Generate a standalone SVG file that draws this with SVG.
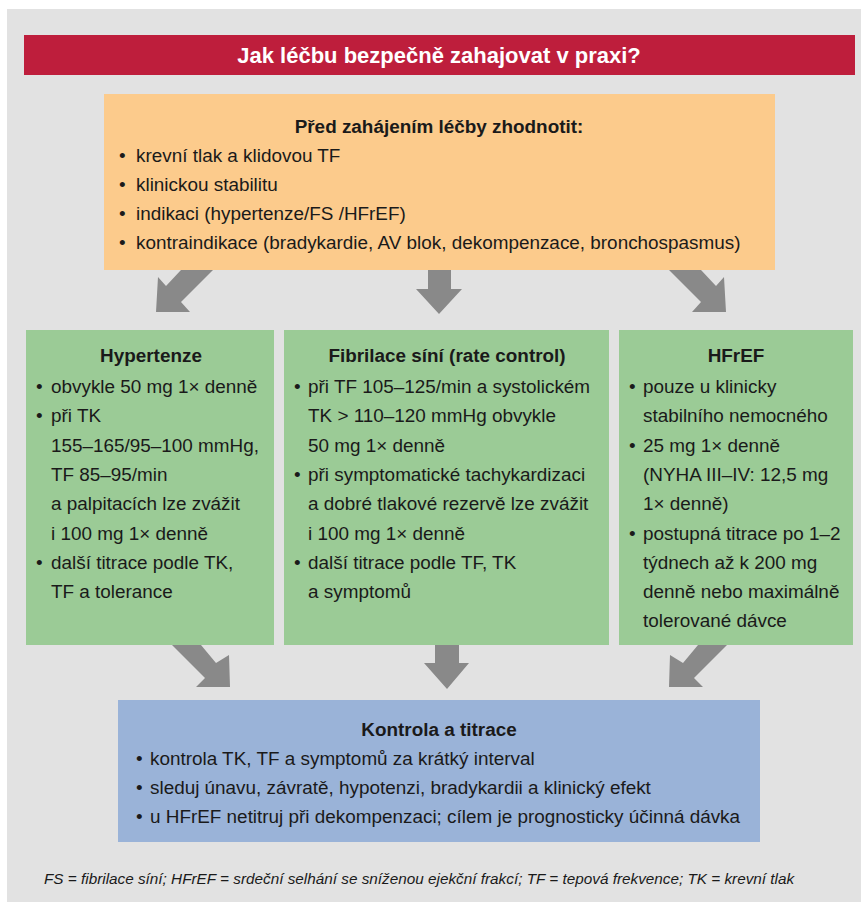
<svg xmlns="http://www.w3.org/2000/svg" width="861" height="902" viewBox="0 0 861 902">
<style>
text{font-family:"Liberation Sans",Arial,sans-serif;fill:#1a1a1a;font-size:18.9px}
.h{font-weight:bold;text-anchor:middle}
.t{fill:#ffffff;font-size:22px;font-weight:bold;text-anchor:middle}
.fn{font-style:italic;font-size:15.3px}
.arr{fill:#898989}
</style>
<rect x="7" y="9" width="854" height="893" fill="#e2e2e2"/>
<g id="title">
<rect x="24" y="35" width="831" height="40" fill="#be1e3c"/>
<text class="t" x="439" y="63">Jak léčbu bezpečně zahajovat v praxi?</text>
</g>
<g id="assess">
<rect x="104" y="94" width="671" height="176" fill="#fccb8c"/>
<text class="h" x="439" y="133">Před zahájením léčby zhodnotit:</text>
<text x="119" y="162">•</text><text x="136" y="162">krevní tlak a klidovou TF</text>
<text x="119" y="191">•</text><text x="136" y="191">klinickou stabilitu</text>
<text x="119" y="220">•</text><text x="136" y="220">indikaci (hypertenze/FS /HFrEF)</text>
<text x="119" y="249">•</text><text x="136" y="249">kontraindikace (bradykardie, AV blok, dekompenzace, bronchospasmus)</text>
</g>
<g id="hypertenze">
<rect x="26" y="330" width="248" height="315" fill="#9bcb96"/>
<text class="h" x="151" y="362">Hypertenze</text>
<text x="36" y="393">•</text><text x="51" y="393">obvykle 50 mg 1× denně</text>
<text x="36" y="422">•</text><text x="51" y="422">při TK</text>
<text x="51" y="452">155–165/95–100 mmHg,</text>
<text x="51" y="481">TF 85–95/min</text>
<text x="51" y="510">a palpitacích lze zvážit</text>
<text x="51" y="540">i 100 mg 1× denně</text>
<text x="36" y="569">•</text><text x="51" y="569">další titrace podle TK,</text>
<text x="51" y="598">TF a tolerance</text>
</g>
<g id="fibrilace">
<rect x="284" y="330" width="325" height="315" fill="#9bcb96"/>
<text class="h" x="447" y="362">Fibrilace síní (rate control)</text>
<text x="294" y="393">•</text><text x="308" y="393">při TF 105–125/min a systolickém</text>
<text x="308" y="422">TK &gt; 110–120 mmHg obvykle</text>
<text x="308" y="452">50 mg 1× denně</text>
<text x="294" y="481">•</text><text x="308" y="481">při symptomatické tachykardizaci</text>
<text x="308" y="510">a dobré tlakové rezervě lze zvážit</text>
<text x="308" y="540">i 100 mg 1× denně</text>
<text x="294" y="569">•</text><text x="308" y="569">další titrace podle TF, TK</text>
<text x="308" y="598">a symptomů</text>
</g>
<g id="hfref">
<rect x="619" y="330" width="234" height="315" fill="#9bcb96"/>
<text class="h" x="736" y="362">HFrEF</text>
<text x="629" y="393">•</text><text x="643" y="393">pouze u klinicky</text>
<text x="643" y="422">stabilního nemocného</text>
<text x="629" y="452">•</text><text x="643" y="452">25 mg 1× denně</text>
<text x="643" y="481">(NYHA III–IV: 12,5 mg</text>
<text x="643" y="510">1× denně)</text>
<text x="629" y="540">•</text><text x="643" y="540">postupná titrace po 1–2</text>
<text x="643" y="569">týdnech až k 200 mg</text>
<text x="643" y="598">denně nebo maximálně</text>
<text x="643" y="627">tolerované dávce</text>
</g>
<g id="kontrola">
<rect x="118" y="700" width="642" height="142" fill="#9ab3d8"/>
<text class="h" x="439" y="736">Kontrola a titrace</text>
<text x="136" y="765">•</text><text x="150" y="765">kontrola TK, TF a symptomů za krátký interval</text>
<text x="136" y="794">•</text><text x="150" y="794">sleduj únavu, závratě, hypotenzi, bradykardii a klinický efekt</text>
<text x="136" y="823">•</text><text x="150" y="823">u HFrEF netitruj při dekompenzaci; cílem je prognosticky účinná dávka</text>
</g>
<g id="connectors">
<polygon class="arr" points="181,270 213,270 181,302 190,312 156,312 158,277 166,286"/>
<polygon class="arr" points="428,270 451,270 451,289 462,289 439,314 416,289 428,289"/>
<polygon class="arr" points="701,270 669,270 701,302 692,312 726,312 724,277 716,286"/>
<polygon class="arr" points="172,645 201,645 216,663 229,655 230,687 196,687 205,678"/>
<polygon class="arr" points="435,645 459,645 459,663 469,663 447,689 424,663 435,663"/>
<polygon class="arr" points="727,645 698,645 683,663 670,655 669,687 703,687 694,678"/>
</g>
<g id="footnote">
<text class="fn" x="44" y="884">FS = fibrilace síní; HFrEF = srdeční selhání se sníženou ejekční frakcí; TF = tepová frekvence; TK = krevní tlak</text>
</g>
</svg>
